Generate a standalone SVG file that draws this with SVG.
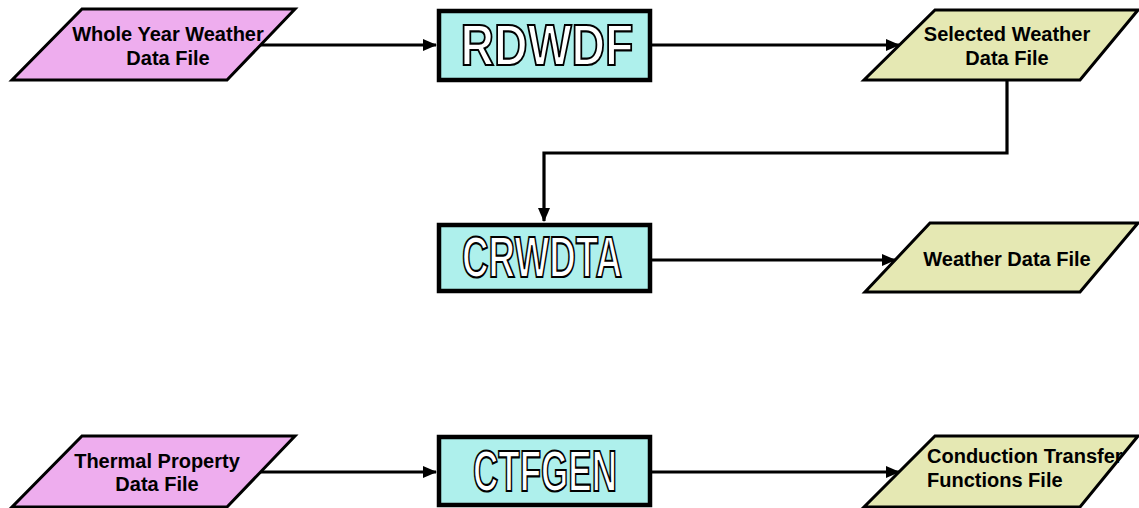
<svg xmlns="http://www.w3.org/2000/svg" width="1139" height="508" viewBox="0 0 1139 508">
<style>
.file{stroke:#000;stroke-width:3;stroke-linejoin:miter}
.in{fill:#eeadee}
.out{fill:#e5e8b3}
.box{fill:#aef0ec;stroke:#000;stroke-width:4.5}
.lbl{font-family:"Liberation Sans",Arial,sans-serif;font-weight:bold;font-size:20px;fill:#000}
.big{font-family:"Liberation Sans",Arial,sans-serif;font-weight:bold;font-size:58px;fill:#fff;stroke:#000;stroke-width:2.2}
.conn{fill:none;stroke:#000;stroke-width:3.2}
</style>
<defs>
<marker id="arr" markerUnits="userSpaceOnUse" markerWidth="14" markerHeight="12" refX="13" refY="6" orient="auto">
<path d="M0,0 L14,6 L0,12 z" fill="#000"/>
</marker>
</defs>
<g id="connectors">
<line class="conn" x1="260" y1="45" x2="436" y2="45" marker-end="url(#arr)"/>
<line class="conn" x1="652" y1="45" x2="899" y2="45" marker-end="url(#arr)"/>
<polyline class="conn" points="1007,80 1007,153 544,153 544,221" marker-end="url(#arr)"/>
<line class="conn" x1="652" y1="260" x2="895" y2="260" marker-end="url(#arr)"/>
<line class="conn" x1="260" y1="472" x2="436" y2="472" marker-end="url(#arr)"/>
<line class="conn" x1="652" y1="472" x2="899" y2="472" marker-end="url(#arr)"/>
</g>
<g id="whole-year">
<polygon class="file in" points="82,9 295,9 227,80 12,80"/>
<text class="lbl" x="168" y="41" text-anchor="middle">Whole Year Weather</text>
<text class="lbl" x="168" y="65" text-anchor="middle">Data File</text>
</g>
<g id="rdwdf">
<rect class="box" x="439" y="11" width="211" height="69"/>
<text class="big" x="547" y="65" text-anchor="middle" textLength="173" lengthAdjust="spacingAndGlyphs">RDWDF</text>
</g>
<g id="selected">
<polygon class="file out" points="935,10 1138,10 1080,80 864,80"/>
<text class="lbl" x="1007" y="41" text-anchor="middle">Selected Weather</text>
<text class="lbl" x="1007" y="65" text-anchor="middle">Data File</text>
</g>
<g id="crwdta">
<rect class="box" x="439" y="225" width="211" height="66"/>
<text class="big" x="542" y="277" text-anchor="middle" textLength="160" lengthAdjust="spacingAndGlyphs">CRWDTA</text>
</g>
<g id="weather">
<polygon class="file out" points="930,223 1138,223 1080,292 865,292"/>
<text class="lbl" x="1007" y="266" text-anchor="middle">Weather Data File</text>
</g>
<g id="thermal">
<polygon class="file in" points="82,436 295,436 227,507 12,507"/>
<text class="lbl" x="157" y="468" text-anchor="middle">Thermal Property</text>
<text class="lbl" x="157" y="491" text-anchor="middle">Data File</text>
</g>
<g id="ctfgen">
<rect class="box" x="439" y="437" width="211" height="68"/>
<text class="big" x="545" y="491" text-anchor="middle" textLength="144" lengthAdjust="spacingAndGlyphs">CTFGEN</text>
</g>
<g id="conduction">
<polygon class="file out" points="935,436 1138,436 1080,507 864,507"/>
<text class="lbl" x="927" y="463">Conduction Transfer</text>
<text class="lbl" x="927" y="487">Functions File</text>
</g>
</svg>
